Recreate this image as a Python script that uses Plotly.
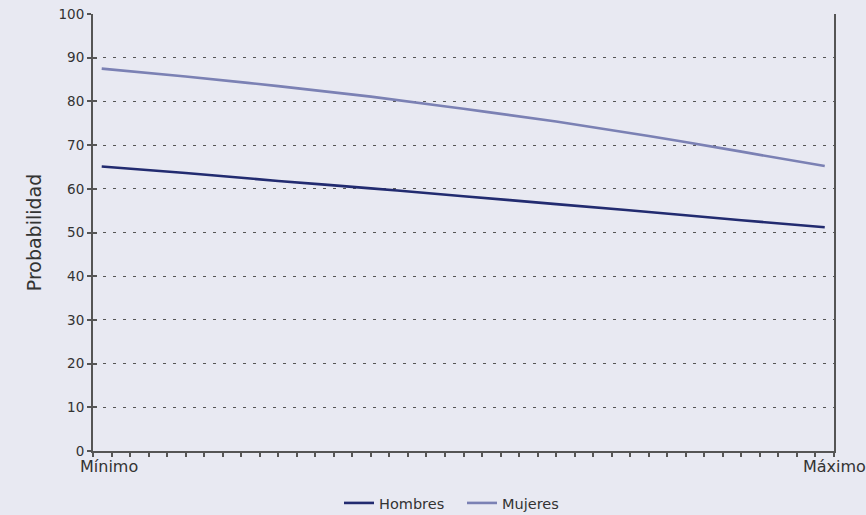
import plotly.graph_objects as go

# Predictor scale runs 0..40 between "Mínimo" and "Máximo"
x_vals = [0.47, 5, 10, 15, 20, 25, 30, 35, 39.5]
hombres = [65.1, 63.6, 61.8, 60.1, 58.3, 56.5, 54.7, 52.8, 51.2]
mujeres = [87.5, 85.7, 83.5, 81.1, 78.3, 75.4, 72.1, 68.5, 65.2]
y_ticks = list(range(0, 101, 10))
x_labels = [(0.86, "Mínimo"), (40.0, "Máximo")]

bg = "#e8e9f2"
axis_col = "#555555"
text_col = "#333333"
font_fam = "DejaVu Sans, Verdana, sans-serif"

fig = go.Figure()
fig.add_trace(go.Scatter(x=x_vals, y=hombres, mode="lines", name="Hombres",
                         line=dict(color="#222b70", width=2.6, shape="spline")))
fig.add_trace(go.Scatter(x=x_vals, y=mujeres, mode="lines", name="Mujeres",
                         line=dict(color="#7b81b4", width=2.6, shape="spline")))
# companion trace so the inside-tick axis is rendered
fig.add_trace(go.Scatter(x=[None], y=[None], yaxis="y2", showlegend=False,
                         hoverinfo="skip"))

fig.update_layout(
    width=866, height=515,
    paper_bgcolor=bg, plot_bgcolor=bg,
    margin=dict(l=93, r=32, t=14, b=64, autoexpand=False),
    font=dict(family=font_fam, size=14, color=text_col),
    xaxis=dict(range=[0, 40], dtick=1, tick0=0, showticklabels=False,
               ticks="outside", ticklen=4, tickwidth=1.5, tickcolor=axis_col,
               showline=True, linewidth=2, linecolor=axis_col,
               showgrid=False, zeroline=False),
    yaxis=dict(range=[0, 100], tickvals=y_ticks,
               ticks="outside", ticklen=4, tickwidth=1.5, tickcolor=axis_col,
               showline=True, linewidth=2, linecolor=axis_col, mirror=True,
               showgrid=True, gridcolor=axis_col, gridwidth=1,
               griddash="3px,7px", zeroline=False,
               tickfont=dict(size=13.5, color=text_col),
               title=dict(text="Probabilidad", standoff=12,
                          font=dict(size=19, color=text_col))),
    yaxis2=dict(range=[0, 100], tickvals=y_ticks, overlaying="y", side="left",
                ticks="inside", ticklen=4, tickwidth=1.5, tickcolor=axis_col,
                showticklabels=False, showgrid=False, showline=False,
                zeroline=False),
    legend=dict(orientation="h", x=0.498, xanchor="center",
                y=-0.119, yanchor="middle", bgcolor="rgba(0,0,0,0)",
                entrywidth=78, entrywidthmode="pixels",
                font=dict(size=14.5, color=text_col)),
    showlegend=True,
)

for xv, txt in x_labels:
    fig.add_annotation(x=xv, y=0, xref="x", yref="paper", text=txt,
                       showarrow=False, yanchor="top", yshift=-4,
                       font=dict(size=16, color=text_col))

fig.write_html("out.html")
